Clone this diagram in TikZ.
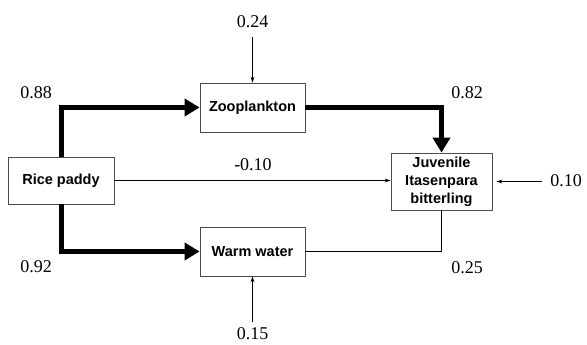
\documentclass[tikz,border=0pt]{standalone}
\usepackage{fontspec}
\setmainfont{Liberation Serif}
\newfontfamily\boxfont{Liberation Sans}
\usetikzlibrary{arrows.meta}
\begin{document}
\begin{tikzpicture}[x=1pt,y=-1pt,
  box/.style={draw=black!70,line width=0.8pt,fill=white,inner sep=0pt,align=center,
    font=\boxfont\bfseries\fontsize{14.5}{18}\selectfont},
  num/.style={inner sep=0pt,font=\fontsize{18}{20}\selectfont},
  bigarrow/.style={line width=5pt,-{Triangle[length=15pt,width=17pt]}},
  thinarrow/.style={line width=0.9pt,-{Stealth[length=6pt,width=4pt]}},
  thinline/.style={line width=0.9pt}]
\useasboundingbox (0,0) rectangle (587,345);
\node[box,minimum width=106pt,minimum height=47pt] (rice) at (61,180.5) {Rice paddy};
\node[box,minimum width=105pt,minimum height=49pt] (zoo) at (252.5,107.5) {Zooplankton};
\node[box,minimum width=105pt,minimum height=49pt] (warm) at (252.5,251.5) {Warm water};
\node[box,minimum width=101pt,minimum height=57pt] (juv) at (441.5,181.5) {Juvenile\\Itasenpara\\bitterling};
\draw[bigarrow] (rice.north) |- (zoo.west);
\draw[bigarrow] (rice.south) |- (warm.west);
\draw[bigarrow] (zoo.east) -| (juv.north);
\draw[thinline] (warm.east) -| (juv.south);
\draw[thinarrow] (rice.east) -- (rice.east -| juv.west);
\coordinate (e1) at (252.5,37);
\coordinate (e2) at (252.5,322);
\coordinate (e3) at (542,181.5);
\draw[thinarrow] (e1) -- (zoo.north);
\draw[thinarrow] (e2) -- (warm.south);
\draw[thinarrow,shorten >=4pt] (e3) -- (juv.east);
\node[num] (n024) at (252.5,22) {0.24};
\node[num] (n015) at (252.5,334) {0.15};
\node[num] (n010) at (566,181) {0.10};
\node[num] (n088) at (36,93) {0.88};
\node[num] (n092) at (36,267) {0.92};
\node[num] (n082) at (467,93) {0.82};
\node[num] (n025) at (467,268) {0.25};
\node[num] (n010b) at (253,165) {-0.10};
\end{tikzpicture}
\end{document}
